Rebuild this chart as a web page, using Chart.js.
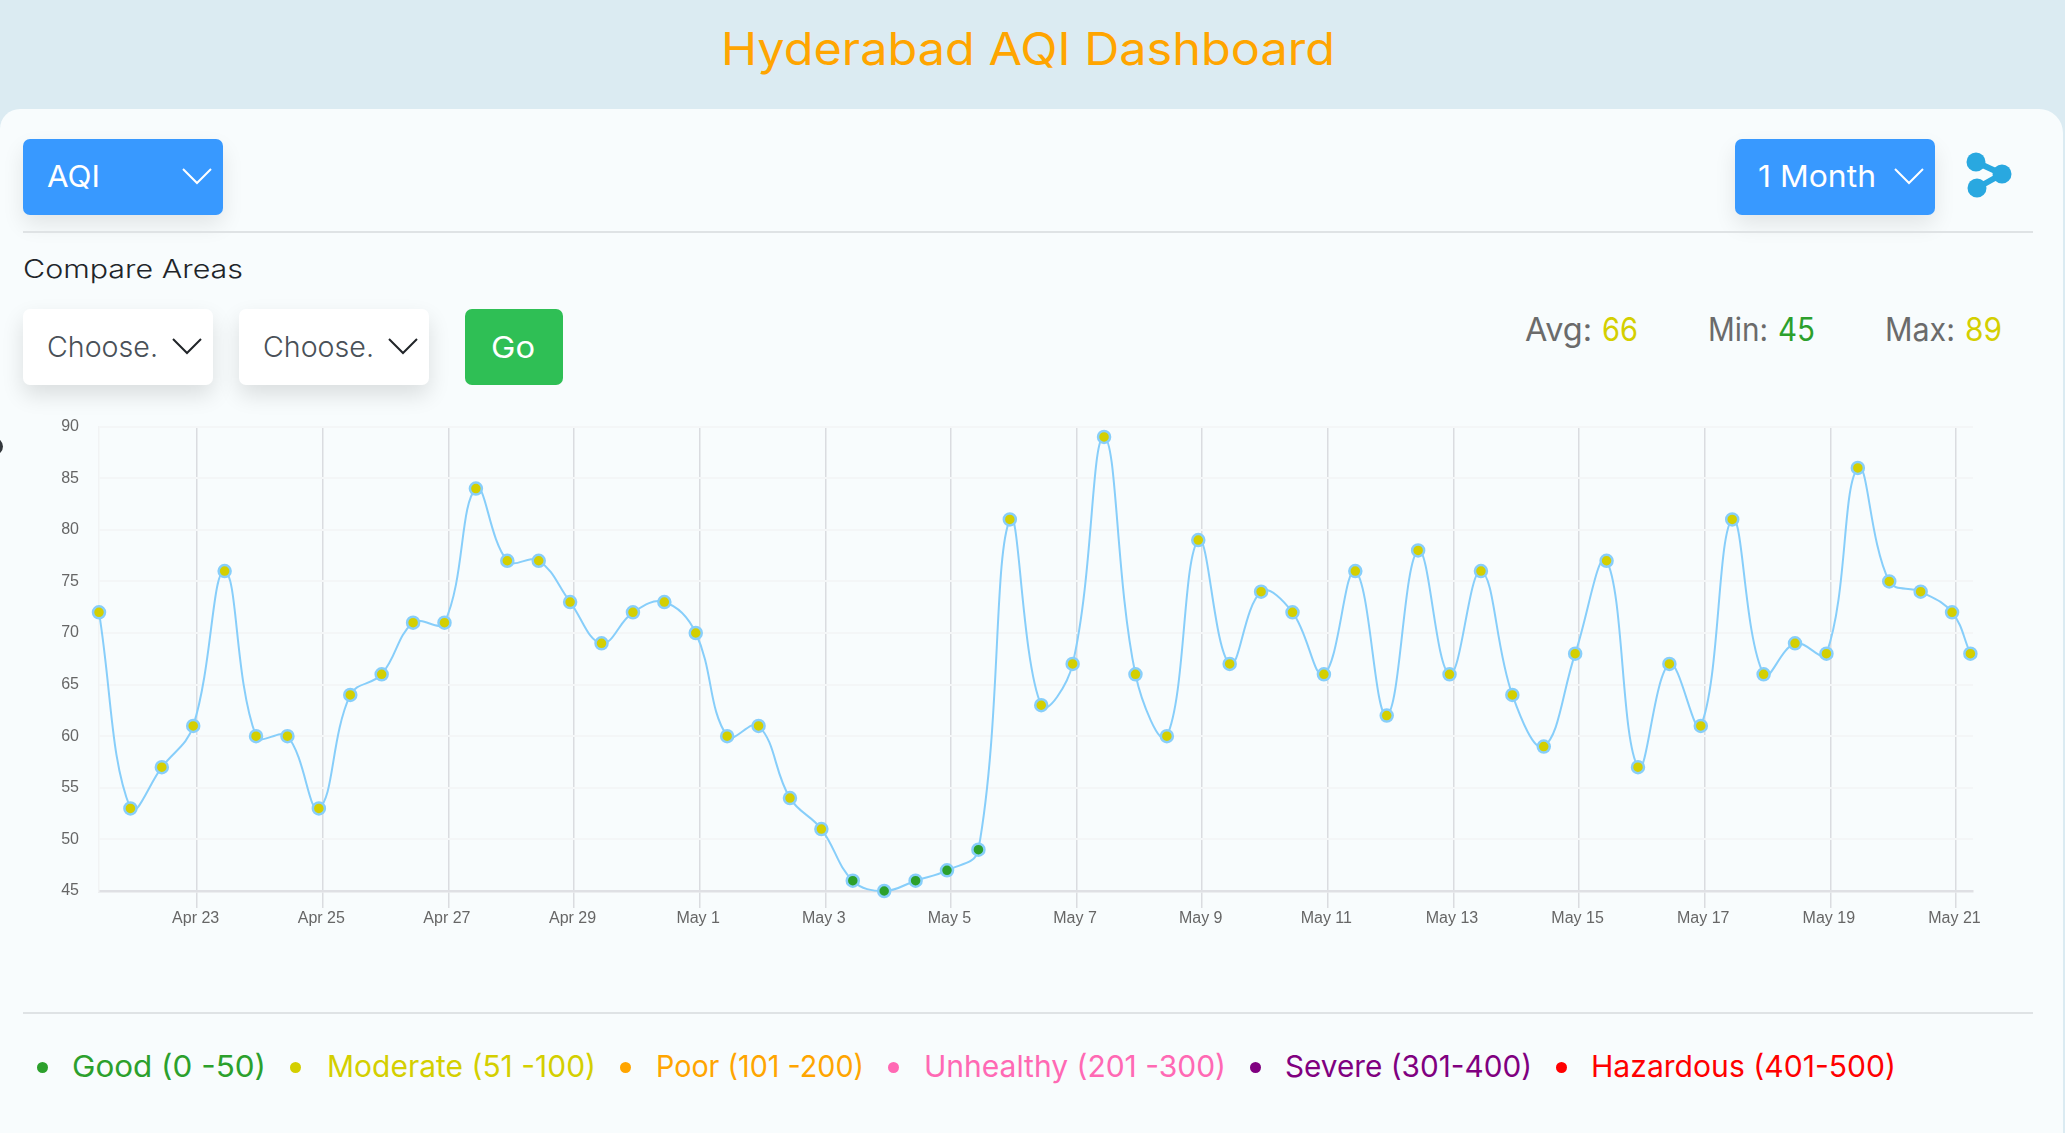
<!DOCTYPE html>
<html>
<head>
<meta charset="utf-8">
<title>Hyderabad AQI Dashboard</title>
<script src="https://cdn.jsdelivr.net/npm/chart.js@4/dist/chart.umd.min.js"></script>
<style>
  html, body { margin: 0; padding: 0; width: 2065px; height: 1133px; overflow: hidden; background: #dbebf2; }
  body { position: relative; font-family: Inter, "Noto Sans", sans-serif; font-weight: 400; }
  .card { position: absolute; left: 0; top: 109px; width: 2063px; height: 1024px; background: #f8fcfd; border-radius: 20px 24px 0 0; }
  .t { position: absolute; white-space: nowrap; line-height: 1; transform-origin: left center; }
  .box { position: absolute; border-radius: 7px; }
  .blue { background: #3899ff; top: 139px; width: 200px; height: 76px; box-shadow: 0 10px 22px rgba(0,0,0,.09); }
  .white { background: #fff; top: 309px; width: 190px; height: 76px; box-shadow: 0 10px 22px rgba(0,0,0,.12); }
  .hr { position: absolute; left: 23px; width: 2010px; height: 2px; background: #dfe3e5; }
  .dot { position: absolute; width: 11px; height: 11px; border-radius: 50%; top: 1062px; }
  svg { position: absolute; overflow: visible; }
  canvas { position: absolute; left: 0; top: 397px; }
</style>
</head>
<body>
<div class="t" data-w="614" style="left:721px;top:26px;font-size:45px;color:#ffa500">Hyderabad AQI Dashboard</div>
<div class="card"></div>

<div class="box blue" style="left:23px"></div>
<div class="t" data-w="53" style="left:47px;top:161px;font-size:30px;color:#fff">AQI</div>
<svg style="left:183px;top:169px" width="28" height="14"><path d="M0 0L14 14L28 0" fill="none" stroke="#fff" stroke-width="2"/></svg>

<div class="box blue" style="left:1735px"></div>
<div class="t" data-w="118" style="left:1758px;top:161px;font-size:30px;color:#fff">1 Month</div>
<svg style="left:1895px;top:169px" width="28" height="14"><path d="M0 0L14 14L28 0" fill="none" stroke="#fff" stroke-width="2"/></svg>

<svg style="left:1960px;top:150px" width="60" height="50">
  <path d="M16 12L42 24L17 38" fill="none" stroke="#29a8e0" stroke-width="6"/>
  <circle cx="16" cy="12" r="9.5" fill="#29a8e0"/><circle cx="42" cy="24" r="9.5" fill="#29a8e0"/><circle cx="17" cy="38" r="9.5" fill="#29a8e0"/>
</svg>

<div class="hr" style="top:231px"></div>
<div class="t" data-w="220" style="left:23px;top:257px;font-size:25px;color:#212529;font-weight:300">Compare Areas</div>

<div class="box white" style="left:23px"></div>
<div class="t" data-w="111" style="left:47px;top:333px;font-size:28px;color:#495057;font-weight:300">Choose.</div>
<svg style="left:173px;top:339px" width="28" height="14"><path d="M0 0L14 14L28 0" fill="none" stroke="#212529" stroke-width="2"/></svg>
<div class="box white" style="left:239px"></div>
<div class="t" data-w="111" style="left:263px;top:333px;font-size:28px;color:#495057;font-weight:300">Choose.</div>
<svg style="left:389px;top:339px" width="28" height="14"><path d="M0 0L14 14L28 0" fill="none" stroke="#212529" stroke-width="2"/></svg>
<div class="box" style="left:465px;top:309px;width:98px;height:76px;background:#2fbf55"></div>
<div class="t" data-w="44" style="left:491px;top:332px;font-size:30px;color:#fff">Go</div>

<div class="t" data-w="67" style="left:1525px;top:314px;font-size:32px;color:#6b6b6b">Avg:</div>
<div class="t" data-w="36" style="left:1602px;top:314px;font-size:32px;color:#d4cf00">66</div>
<div class="t" data-w="60" style="left:1708px;top:314px;font-size:32px;color:#6b6b6b">Min:</div>
<div class="t" data-w="37" style="left:1778px;top:314px;font-size:32px;color:#2ca02c">45</div>
<div class="t" data-w="70" style="left:1885px;top:314px;font-size:32px;color:#6b6b6b">Max:</div>
<div class="t" data-w="37" style="left:1965px;top:314px;font-size:32px;color:#d4cf00">89</div>

<div style="position:absolute;left:-14px;top:438px;width:17px;height:17px;border-radius:50%;background:#33383c"></div>

<canvas id="aqiChart" width="2065" height="540"></canvas>

<div class="hr" style="top:1012px"></div>
<div class="dot" style="left:37px;background:#2ca02c"></div>
<div class="t" data-w="194" style="left:72px;top:1051px;font-size:30px;color:#2ca02c">Good (0 -50)</div>
<div class="dot" style="left:290px;background:#d4cf00"></div>
<div class="t" data-w="269" style="left:327px;top:1051px;font-size:30px;color:#d4cf00">Moderate (51 -100)</div>
<div class="dot" style="left:620px;background:#ffa500"></div>
<div class="t" data-w="208" style="left:656px;top:1051px;font-size:30px;color:#ffa500">Poor (101 -200)</div>
<div class="dot" style="left:888px;background:#ff69b4"></div>
<div class="t" data-w="302" style="left:924px;top:1051px;font-size:30px;color:#ff69b4">Unhealthy (201 -300)</div>
<div class="dot" style="left:1250px;background:#800080"></div>
<div class="t" data-w="247" style="left:1285px;top:1051px;font-size:30px;color:#800080">Severe (301-400)</div>
<div class="dot" style="left:1556px;background:#ff0000"></div>
<div class="t" data-w="305" style="left:1591px;top:1051px;font-size:30px;color:#ff0000">Hazardous (401-500)</div>

<script>
const pointTimes = [
  'Apr 21 10:30', 'Apr 21 22:30', 'Apr 22 10:30', 'Apr 22 22:30', 'Apr 23 10:30', 'Apr 23 22:30',
  'Apr 24 10:30', 'Apr 24 22:30', 'Apr 25 10:30', 'Apr 25 22:30', 'Apr 26 10:30', 'Apr 26 22:30',
  'Apr 27 10:30', 'Apr 27 22:30', 'Apr 28 10:30', 'Apr 28 22:30', 'Apr 29 10:30', 'Apr 29 22:30',
  'Apr 30 10:30', 'Apr 30 22:30', 'May 1 10:30', 'May 1 22:30', 'May 2 10:30', 'May 2 22:30',
  'May 3 10:30', 'May 3 22:30', 'May 4 10:30', 'May 4 22:30', 'May 5 10:30', 'May 5 22:30',
  'May 6 10:30', 'May 6 22:30', 'May 7 10:30', 'May 7 22:30', 'May 8 10:30', 'May 8 22:30',
  'May 9 10:30', 'May 9 22:30', 'May 10 10:30', 'May 10 22:30', 'May 11 10:30', 'May 11 22:30',
  'May 12 10:30', 'May 12 22:30', 'May 13 10:30', 'May 13 22:30', 'May 14 10:30', 'May 14 22:30',
  'May 15 10:30', 'May 15 22:30', 'May 16 10:30', 'May 16 22:30', 'May 17 10:30', 'May 17 22:30',
  'May 18 10:30', 'May 18 22:30', 'May 19 10:30', 'May 19 22:30', 'May 20 10:30', 'May 20 22:30',
  'May 21 05:30',
];
const aqiValues = [
  72, 53, 57, 61, 76, 60, 60, 53, 64, 66, 71, 71, 84, 77, 77, 73, 69, 72, 73, 70,
  60, 61, 54, 51, 46, 45, 46, 47, 49, 81, 63, 67, 89, 66, 60, 79, 67, 74, 72, 66,
  76, 62, 78, 66, 76, 64, 59, 68, 77, 57, 67, 61, 81, 66, 69, 68, 86, 75, 74, 72,
  68,
];
const xTickLabels = [
  'Apr 23', 'Apr 25', 'Apr 27', 'Apr 29', 'May 1', 'May 3', 'May 5', 'May 7',
  'May 9', 'May 11', 'May 13', 'May 15', 'May 17', 'May 19', 'May 21',
];
const xAxisEnd = 'May 21 06:30';

const GOOD_COLOR = '#2ca02c';
const MODERATE_COLOR = '#d4cf00';
const LINE_COLOR = '#87cefa';

const toMs = (label) => {
  const [mon, day, time = '00:00'] = label.split(' ');
  return Date.parse(`${mon} ${day} 2019 ${time} UTC`);
};

// 글자 폭을 원본에 맞추기
document.querySelectorAll('[data-w]').forEach((el) => {
  const ratio = Number(el.dataset.w) / el.getBoundingClientRect().width;
  el.style.transform = `scaleX(${ratio})`;
});

Chart.defaults.font.family = '"Liberation Sans", Arial, sans-serif';

new Chart(document.getElementById('aqiChart'), {
  type: 'line',
  data: {
    datasets: [{
      label: 'AQI',
      data: pointTimes.map((t, i) => ({ x: toMs(t), y: aqiValues[i] })),
      borderColor: LINE_COLOR,
      borderWidth: 2,
      tension: 0.4,
      fill: false,
      clip: false,
      pointRadius: 6,
      pointBorderWidth: 2.5,
      pointBorderColor: LINE_COLOR,
      pointBackgroundColor: (ctx) => (ctx.raw && ctx.raw.y <= 50 ? GOOD_COLOR : MODERATE_COLOR),
    }],
  },
  options: {
    responsive: false,
    devicePixelRatio: 1,
    animation: false,
    layout: { padding: { left: 0, right: 92, top: 24.5, bottom: 0 } },
    plugins: { legend: { display: false }, tooltip: { enabled: false } },
    scales: {
      x: {
        type: 'linear',
        min: toMs(pointTimes[0]),
        max: toMs(xAxisEnd),
        afterBuildTicks(axis) {
          axis.ticks = xTickLabels.map((l) => ({ value: toMs(l) }));
        },
        afterFit(axis) { axis.height = 46; },
        grid: { color: '#dadce0', lineWidth: 1.5, tickLength: 17, tickColor: '#dadce0' },
        border: { color: '#dfe0e4', width: 2.5 },
        ticks: {
          autoSkip: false,
          maxRotation: 0,
          padding: 1,
          labelOffset: -1.5,
          color: '#666',
          font: { size: 16 },
          callback(value) { return xTickLabels[xTickLabels.findIndex((l) => toMs(l) === value)]; },
        },
      },
      y: {
        min: 45,
        max: 90,
        afterFit(axis) { axis.width = 99; },
        grid: { color: '#f4f6f7', lineWidth: 2, drawTicks: false },
        border: { color: '#f1f3f4', width: 1.5 },
        ticks: { stepSize: 5, padding: 20, color: '#666', font: { size: 16 } },
      },
    },
  },
});
</script>
</body>
</html>
